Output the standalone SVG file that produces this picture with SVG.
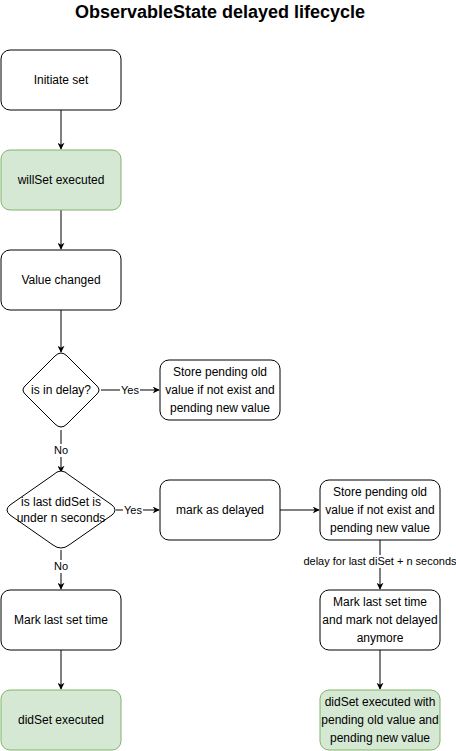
<svg xmlns="http://www.w3.org/2000/svg" width="456" height="751" viewBox="0 0 456 751">
  <style>
    .box { fill: #ffffff; stroke: #000000; stroke-width: 1; }
    .ok { fill: #d5e8d4; stroke: #82b366; stroke-width: 1; }
    .lbl { font-family: "Liberation Sans", Arial, sans-serif; font-size: 12px; fill: #000000; text-anchor: middle; }
    .edge-lbl { font-family: "Liberation Sans", Arial, sans-serif; font-size: 11px; fill: #000000; text-anchor: middle; }
    .title { font-family: "Liberation Sans", Arial, sans-serif; font-size: 18px; font-weight: bold; fill: #000000; text-anchor: middle; }
    .edge { fill: none; stroke: #000000; stroke-width: 1; }
    .lbl-bg { fill: #ffffff; }
  </style>
  <defs>
    <marker id="arrow" viewBox="0 0 10 10" refX="9" refY="5" markerWidth="7" markerHeight="7" markerUnits="userSpaceOnUse" orient="auto">
      <path d="M0,0 L10,5 L0,10 L3,5 Z" fill="#000000"/>
    </marker>
  </defs>

  <rect width="456" height="751" fill="#ffffff"/>

  <text class="title" x="220" y="18">ObservableState delayed lifecycle</text>

  <!-- connectors -->
  <g id="connectors">
    <path class="edge" d="M61,110 L61,149" marker-end="url(#arrow)"/>
    <path class="edge" d="M61,210 L61,249" marker-end="url(#arrow)"/>
    <path class="edge" d="M61,310 L61,352" marker-end="url(#arrow)"/>
    <path class="edge" d="M101,390 L159,390" marker-end="url(#arrow)"/>
    <rect class="lbl-bg" x="120" y="383" width="20" height="13"/>
    <text class="edge-lbl" x="130" y="394">Yes</text>
    <path class="edge" d="M61,430 L61,472" marker-end="url(#arrow)"/>
    <rect class="lbl-bg" x="52" y="444" width="18" height="13"/>
    <text class="edge-lbl" x="61" y="454">No</text>
    <path class="edge" d="M116,510 L159,510" marker-end="url(#arrow)"/>
    <rect class="lbl-bg" x="123" y="503" width="20" height="13"/>
    <text class="edge-lbl" x="133" y="514">Yes</text>
    <path class="edge" d="M61,550 L61,589" marker-end="url(#arrow)"/>
    <rect class="lbl-bg" x="52" y="560" width="18" height="13"/>
    <text class="edge-lbl" x="61" y="570">No</text>
    <path class="edge" d="M61,650 L61,689" marker-end="url(#arrow)"/>
    <path class="edge" d="M280,510 L319,510" marker-end="url(#arrow)"/>
    <path class="edge" d="M380,540 L380,589" marker-end="url(#arrow)"/>
    <rect class="lbl-bg" x="304" y="555" width="152" height="13"/>
    <text class="edge-lbl" x="380" y="565">delay for last diSet + n seconds</text>
    <path class="edge" d="M380,650 L380,689" marker-end="url(#arrow)"/>
  </g>

  <g id="initiate-set">
    <rect class="box" x="1" y="50" width="120" height="60" rx="9"/>
    <text class="lbl" x="61" y="84">Initiate set</text>
  </g>

  <g id="willset-executed">
    <rect class="ok" x="1" y="150" width="120" height="60" rx="9"/>
    <text class="lbl" x="61" y="184">willSet executed</text>
  </g>

  <g id="value-changed">
    <rect class="box" x="1" y="250" width="120" height="60" rx="9"/>
    <text class="lbl" x="61" y="284">Value changed</text>
  </g>

  <g id="is-in-delay">
    <path class="box" d="M61,353 Q64,353 67,356 L97,386 Q101,390 97,394 L67,424 Q61,430 55,424 L25,394 Q21,390 25,386 L55,356 Q58,353 61,353 Z"/>
    <text class="lbl" x="61" y="394">is in delay?</text>
  </g>

  <g id="store-pending-1">
    <rect class="box" x="160" y="360" width="120" height="60" rx="9"/>
    <text class="lbl" x="220" y="376">Store pending old</text>
    <text class="lbl" x="220" y="394">value if not exist and</text>
    <text class="lbl" x="220" y="412">pending new value</text>
  </g>

  <g id="is-last-didset">
    <path class="box" d="M61,471 Q65,471 69,475 L112,505 Q118,510 112,515 L69,545 Q61,551 53,545 L10,515 Q4,510 10,505 L53,475 Q57,471 61,471 Z"/>
    <text class="lbl" x="61" y="506">is last didSet is</text>
    <text class="lbl" x="61" y="522">under n seconds</text>
  </g>

  <g id="mark-as-delayed">
    <rect class="box" x="160" y="480" width="120" height="60" rx="9"/>
    <text class="lbl" x="220" y="514">mark as delayed</text>
  </g>

  <g id="store-pending-2">
    <rect class="box" x="320" y="480" width="120" height="60" rx="9"/>
    <text class="lbl" x="380" y="496">Store pending old</text>
    <text class="lbl" x="380" y="514">value if not exist and</text>
    <text class="lbl" x="380" y="532">pending new value</text>
  </g>

  <g id="mark-last-set-time">
    <rect class="box" x="1" y="590" width="120" height="60" rx="9"/>
    <text class="lbl" x="61" y="624">Mark last set time</text>
  </g>

  <g id="mark-not-delayed">
    <rect class="box" x="320" y="590" width="120" height="60" rx="9"/>
    <text class="lbl" x="380" y="606">Mark last set time</text>
    <text class="lbl" x="380" y="624">and mark not delayed</text>
    <text class="lbl" x="380" y="642">anymore</text>
  </g>

  <g id="didset-executed">
    <rect class="ok" x="1" y="690" width="120" height="60" rx="9"/>
    <text class="lbl" x="61" y="724">didSet executed</text>
  </g>

  <g id="didset-executed-pending">
    <rect class="ok" x="320" y="690" width="120" height="60" rx="9"/>
    <text class="lbl" x="380" y="706">didSet executed with</text>
    <text class="lbl" x="380" y="724">pending old value and</text>
    <text class="lbl" x="380" y="742">pending new value</text>
  </g>
</svg>
